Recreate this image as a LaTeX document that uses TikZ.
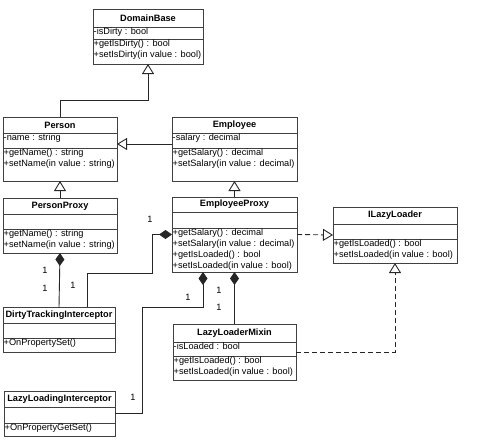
\documentclass[tikz,border=0pt]{standalone}
\usepackage{fontspec}
\setmainfont{Liberation Sans}
\usetikzlibrary{arrows.meta,shadows}
\tikzset{
  classbox/.style={draw=black!75, line width=0.9pt, fill=white, inner sep=0pt, outer sep=0pt,
    drop shadow={shadow xshift=1.2pt, shadow yshift=-1.2pt, fill=black!35, opacity=0.6}},
  classline/.style={draw=black!75, line width=0.9pt},
  titletext/.style={font=\bfseries\fontsize{9.2}{11}\selectfont, inner sep=0pt},
  membertext/.style={font=\fontsize{9.2}{11}\selectfont, align=left, inner xsep=0.5pt, inner ysep=1pt, anchor=north west},
  multlabel/.style={font=\fontsize{9.2}{11}\selectfont, inner sep=0pt},
  conn/.style={draw=black!85, line width=0.9pt},
  inherit/.style={conn, -{Triangle[open, length=10pt, width=12pt, fill=white]}},
  realize/.style={conn, dash pattern=on 5pt off 3pt, -{Triangle[open, length=10pt, width=12pt, fill=white]}},
  compstart/.style={conn, {Diamond[length=13pt, width=9pt]}-},
  compend/.style={conn, -{Diamond[length=13pt, width=9pt]}},
}
\newcommand\umlbox[8]{%
  \node[classbox, minimum width={(#3-#2)*1pt}, minimum height={(#7-#4)*1pt}, anchor=north west] (#1) at (#2,#4) {};
  \draw[classline] (#2,#5) -- (#3,#5);
  \draw[classline] (#2,#6) -- (#3,#6);
  \node[titletext] (#1-title) at ({(#2+#3)/2},{(#4+#5)/2}) {#8};
  \coordinate (#1-a) at (#2,#5);
  \coordinate (#1-m) at (#2,#6);
}
\begin{document}
\begin{tikzpicture}[x=1pt, y=-1pt]
\useasboundingbox (0,0) rectangle (500,442);

% classes
\umlbox{DomainBase}{93}{203}{9}{27}{39}{64}{DomainBase}
\node[membertext] (DomainBase-attr) at (DomainBase-a) {-isDirty : bool};
\node[membertext] (DomainBase-meth) at (DomainBase-m) {+getIsDirty() : bool\\+setIsDirty(in value : bool)};

\umlbox{Person}{3}{117}{117}{133}{148}{181}{Person}
\node[membertext] (Person-attr) at (Person-a) {-name : string};
\node[membertext] (Person-meth) at (Person-m) {+getName() : string\\+setName(in value : string)};

\umlbox{Employee}{172}{297}{117}{133}{148}{181}{Employee}
\node[membertext] (Employee-attr) at (Employee-a) {-salary : decimal};
\node[membertext] (Employee-meth) at (Employee-m) {+getSalary() : decimal\\+setSalary(in value : decimal)};

\umlbox{PersonProxy}{3}{117}{198}{214}{229}{253}{PersonProxy}
\node[membertext] (PersonProxy-meth) at (PersonProxy-m) {+getName() : string\\+setName(in value : string)};

\umlbox{EmployeeProxy}{172}{297}{197}{212}{228}{272}{EmployeeProxy}
\node[membertext] (EmployeeProxy-meth) at (EmployeeProxy-m) {+getSalary() : decimal\\+setSalary(in value : decimal)\\+getIsLoaded() : bool\\+setIsLoaded(in value : bool)};

\umlbox{ILazyLoader}{333}{457}{207}{224}{239}{263}{ILazyLoader}
\node[membertext] (ILazyLoader-meth) at (ILazyLoader-m) {+getIsLoaded() : bool\\+setIsLoaded(in value : bool)};

\umlbox{DTI}{3}{115}{307}{323}{338}{352}{DirtyTrackingInterceptor}
\node[membertext] (DTI-meth) at (DTI-m) {+OnPropertySet()};

\umlbox{LLM}{173}{296}{324}{342}{356}{380}{LazyLoaderMixin}
\node[membertext] (LLM-attr) at (LLM-a) {-isLoaded : bool};
\node[membertext] (LLM-meth) at (LLM-m) {+getIsLoaded() : bool\\+setIsLoaded(in value : bool)};

\umlbox{LLI}{4}{115}{391}{407}{423}{436}{LazyLoadingInterceptor}
\node[membertext] (LLI-meth) at (LLI-m) {+OnPropertyGetSet()};

% connectors
\draw[inherit] (Person.north) -- ++(0,-17) -| (DomainBase.south);
\draw[inherit] ([yshift=5pt]Employee.west) -- ([yshift=5pt]Person.east);
\draw[inherit] (PersonProxy.north) -- (Person.south);
\draw[inherit] (EmployeeProxy.north) -- (Employee.south);
\draw[realize] (EmployeeProxy.east) -- (ILazyLoader.west);
\draw[realize] (LLM.east) -| (ILazyLoader.south);

\coordinate (c1) at (152,273);
\coordinate (c2) at (142,307);
\draw[compstart] (PersonProxy.south) -- (DTI.north);
\draw[compend] ([xshift=28pt]DTI.north) |- (c1) |- (EmployeeProxy.west);
\draw[compstart] ([xshift=-31.5pt]EmployeeProxy.south) |- (c2) |- (LLI.east);
\draw[compstart] (EmployeeProxy.south) -- (LLM.north);

% multiplicities
\node[multlabel] (m1) at (45,270) {1};
\node[multlabel] (m2) at (45,288) {1};
\node[multlabel] (m3) at (73,285) {1};
\node[multlabel] (m4) at (150,219) {1};
\node[multlabel] (m5) at (188,297) {1};
\node[multlabel] (m6) at (219,290) {1};
\node[multlabel] (m7) at (219,307) {1};
\node[multlabel] (m8) at (133,397) {1};
\end{tikzpicture}
\end{document}
